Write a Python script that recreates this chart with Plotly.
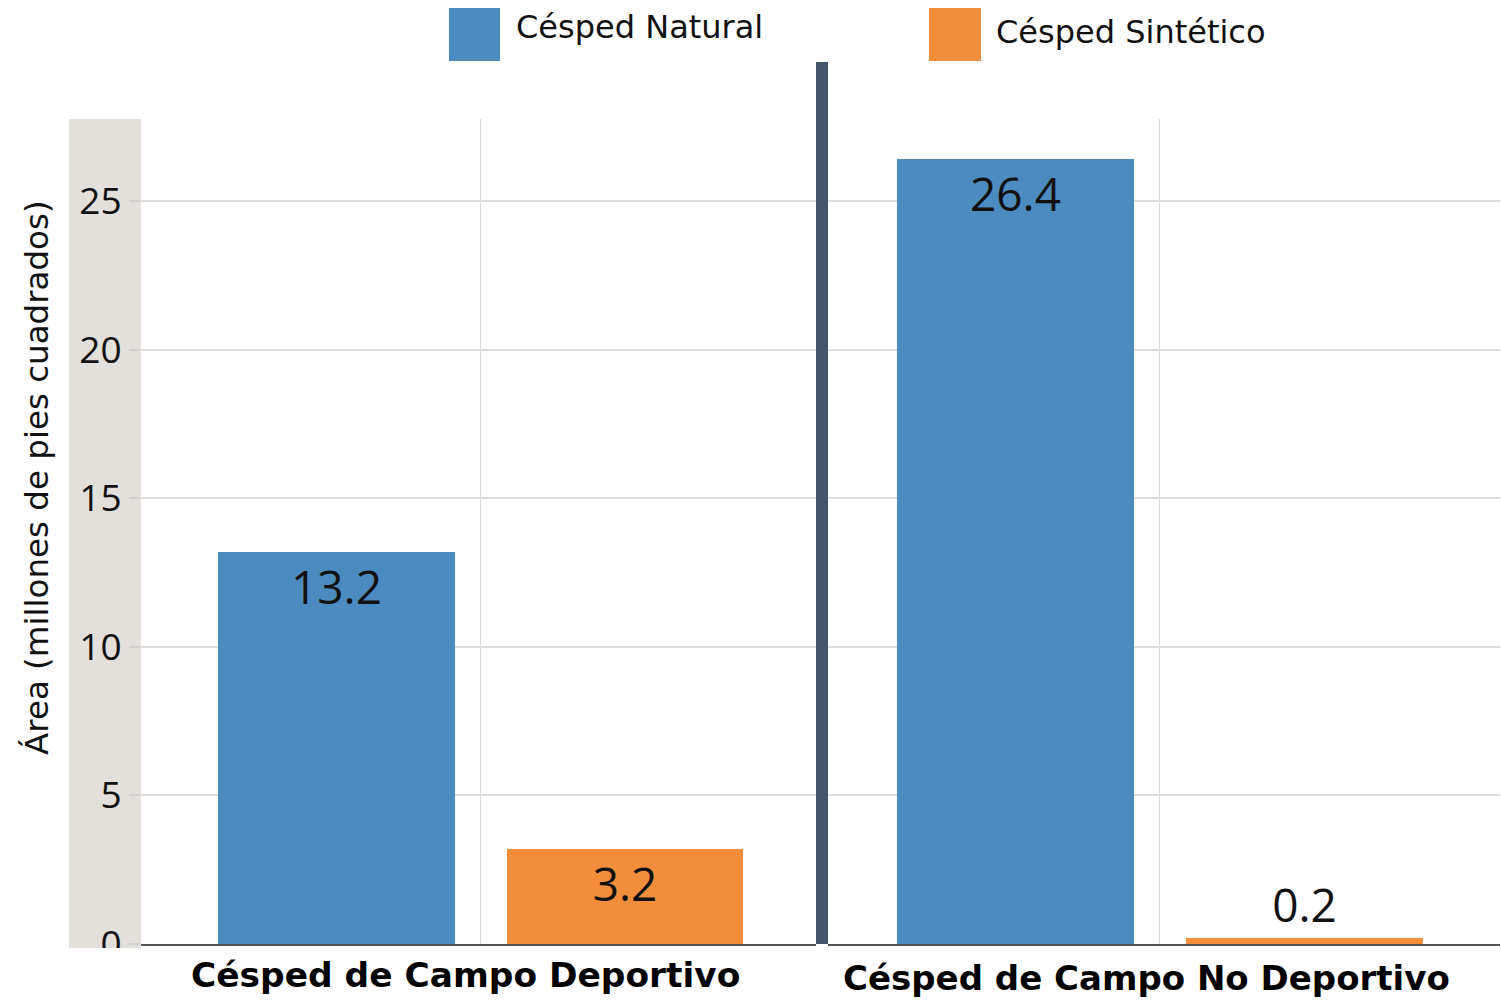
import plotly.graph_objects as go

groups = ["Césped de Campo Deportivo", "Césped de Campo No Deportivo"]
series = ["Césped Natural", "Césped Sintético"]
deportivo = [13.2, 3.2]
no_deportivo = [26.4, 0.2]
y_ticks = [0, 5, 10, 15, 20, 25]
colors = ["#4c8bbf", "#f28e3b"]

W, H = 1501, 1001
ML, MR, MT, MB = 141, 1, 119, 57
PW, PH = W - ML - MR, H - MT - MB

def px(x):
    return (x - ML) / PW

def py(y):
    return (H - MB - y) / PH

fig = go.Figure()
for vals, xa in [(deportivo, "x"), (no_deportivo, "x2")]:
    fig.add_trace(go.Bar(
        x=list(range(len(vals))), y=vals, xaxis=xa, yaxis="y",
        width=0.82, marker=dict(color=colors, line=dict(width=0)),
        text=[f"{v:.1f}" for v in vals],
        textposition=["inside" if v > 2 else "outside" for v in vals],
        insidetextanchor="end",
        textfont=dict(family="Open Sans", size=46, color="#111111"),
        cliponaxis=False, showlegend=False,
    ))

axis_common = dict(tickvals=[0.5], showticklabels=False, showgrid=True,
                   gridcolor="#d9d9d9", gridwidth=1, zeroline=False,
                   showline=True, linecolor="#555555", linewidth=2, ticks="")
fig.update_layout(
    width=W, height=H,
    margin=dict(l=ML, r=MR, t=MT, b=MB),
    paper_bgcolor="white", plot_bgcolor="white",
    bargap=0,
    xaxis=dict(domain=[0, px(816)], range=[-0.675, 1.661], anchor="y", **axis_common),
    xaxis2=dict(domain=[px(828), 1], range=[-0.647, 1.678], anchor="y", **axis_common),
    yaxis=dict(range=[0, 27.76], tickvals=y_ticks, ticktext=[str(t) for t in y_ticks],
               showgrid=True, gridcolor="#dcdcdc", gridwidth=1.5, zeroline=False,
               ticks="outside", ticklen=11, tickcolor="#d0d0d0", tickwidth=1.5,
               tickfont=dict(family="Open Sans", size=37, color="#111111"),
               showline=False),
    font=dict(family="Open Sans"),
)

shapes = [
    dict(type="rect", xref="paper", yref="paper", x0=px(69), x1=0, y0=py(948), y1=1,
         fillcolor="#e3dfdb", line=dict(width=0), layer="below"),
    dict(type="rect", xref="paper", yref="paper", x0=px(60), x1=0, y0=py(1001), y1=py(948),
         fillcolor="white", line=dict(width=0), layer="above"),
    dict(type="rect", xref="paper", yref="paper", x0=px(816), x1=px(828), y0=0, y1=py(62),
         fillcolor="#44546a", line=dict(width=0), layer="above"),
    dict(type="rect", xref="paper", yref="paper", x0=px(449), x1=px(500), y0=py(61), y1=py(8),
         fillcolor=colors[0], line=dict(width=0)),
    dict(type="rect", xref="paper", yref="paper", x0=px(929), x1=px(981), y0=py(61), y1=py(8),
         fillcolor=colors[1], line=dict(width=0)),
]
fig.update_layout(shapes=shapes)

TF = "DejaVu Sans"
ann = [
    dict(text=series[0], x=px(514), y=py(27), xanchor="left", yanchor="middle",
         font=dict(family=TF, size=32, color="#111111")),
    dict(text=series[1], x=px(994), y=py(32), xanchor="left", yanchor="middle",
         font=dict(family=TF, size=32, color="#111111")),
    dict(text="<b>" + groups[0] + "</b>", x=px(465), y=py(975), xanchor="center", yanchor="middle",
         font=dict(family=TF, size=34.4, color="#000000")),
    dict(text="<b>" + groups[1] + "</b>", x=px(1146), y=py(978), xanchor="center", yanchor="middle",
         font=dict(family=TF, size=34, color="#000000")),
    dict(text="Área (millones de pies cuadrados)", x=px(37), y=py(478), textangle=-90,
         xanchor="center", yanchor="middle",
         font=dict(family=TF, size=32.5, color="#111111")),
]
for a in ann:
    a.update(xref="paper", yref="paper", showarrow=False)
fig.update_layout(annotations=ann)

fig.write_html("out.html", config={"displayModeBar": False},
               post_script="document.body.style.margin='0';")
